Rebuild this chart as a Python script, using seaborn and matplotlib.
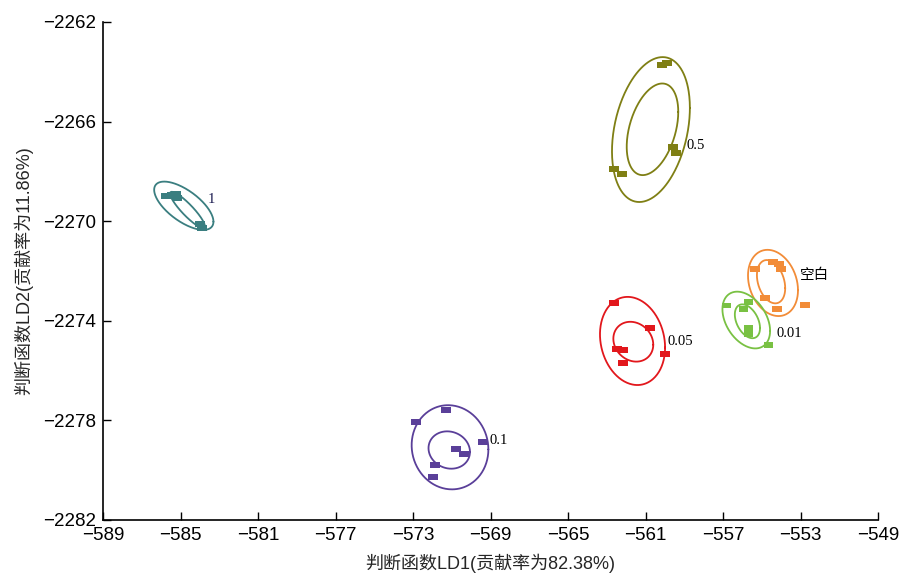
import numpy as np
import pandas as pd
import matplotlib
matplotlib.use("Agg")
import matplotlib.pyplot as plt
import seaborn as sns

# ---- data ----
groups = ["1", "0.5", "空白", "0.01", "0.05", "0.1"]
colors = ["#3a7e80", "#7f7f14", "#f28c38", "#79c143", "#e2171c", "#5a3f99"]

pts_1_x = [-585.75, -585.44, -585.23, -585.18, -583.99, -583.89]
pts_1_y = [-2268.99, -2268.95, -2268.91, -2269.07, -2270.11, -2270.27]
pts_05_x = [-559.89, -560.15, -559.58, -559.43, -562.63, -562.21]
pts_05_y = [-2263.65, -2263.73, -2267.02, -2267.26, -2267.90, -2268.10]
pts_ck_x = [-555.35, -554.42, -554.11, -554.01, -554.83, -554.21, -552.77]
pts_ck_y = [-2271.92, -2271.64, -2271.72, -2271.92, -2273.08, -2273.53, -2273.37]
pts_001_x = [-556.81, -555.69, -555.95, -555.69, -555.69, -554.66]
pts_001_y = [-2273.39, -2273.23, -2273.53, -2274.30, -2274.54, -2274.97]
pts_005_x = [-562.63, -560.77, -562.47, -562.16, -562.16, -559.99]
pts_005_y = [-2273.29, -2274.29, -2275.13, -2275.17, -2275.69, -2275.33]
pts_01_x = [-572.85, -571.30, -569.39, -570.78, -570.37, -571.86, -571.97]
pts_01_y = [-2278.06, -2277.58, -2278.87, -2279.15, -2279.35, -2279.79, -2280.27]

# ellipses: centre, half-extent in x and y, correlation (tilt)
outer_cx = [-584.83, -560.72, -554.42, -555.80, -561.67, -571.09]
outer_cy = [-2269.38, -2266.32, -2272.48, -2273.97, -2274.81, -2279.08]
outer_rx = [1.53, 2.01, 1.29, 1.23, 1.68, 1.98]
outer_ry = [0.97, 2.91, 1.33, 1.14, 1.77, 1.69]
outer_rho = [-0.66, 0.30, -0.22, -0.38, -0.15, -0.05]
inner_cx = [-584.64, -560.64, -554.52, -555.74, -561.63, -571.13]
inner_cy = [-2269.55, -2266.31, -2272.43, -2274.02, -2274.84, -2279.19]
inner_rx = [0.90, 1.33, 0.73, 0.65, 1.03, 1.07]
inner_ry = [0.73, 1.84, 0.87, 0.68, 0.80, 0.75]
inner_rho = [-0.90, 0.38, -0.30, -0.40, -0.15, -0.10]

label_x = [-583.58, -558.91, -553.03, -554.26, -559.84, -569.03]
label_y = [-2269.11, -2266.98, -2272.16, -2274.53, -2274.85, -2278.79]

x_ticks = list(range(-589, -548, 4))
y_ticks = list(range(-2282, -2261, 4))

# ---- build table ----
all_x = [pts_1_x, pts_05_x, pts_ck_x, pts_001_x, pts_005_x, pts_01_x]
all_y = [pts_1_y, pts_05_y, pts_ck_y, pts_001_y, pts_005_y, pts_01_y]
rows = []
for g, xs, ys in zip(groups, all_x, all_y):
    for a, b in zip(xs, ys):
        rows.append({"LD1": a, "LD2": b, "group": g})
df = pd.DataFrame(rows)

sns.set_theme(style="white")
plt.rcParams["font.family"] = ["Liberation Sans", "Noto Sans CJK SC", "DejaVu Sans"]

fig = plt.figure(figsize=(9.02, 5.74), dpi=100)
ax = fig.add_axes([0.1142, 0.0941, 0.8592, 0.8676])

rect = [(-1, -0.62), (1, -0.62), (1, 0.62), (-1, 0.62), (-1, -0.62)]
sns.scatterplot(data=df, x="LD1", y="LD2", hue="group", hue_order=groups,
                palette=colors, marker=rect, s=45, linewidth=0,
                legend=False, ax=ax, zorder=3)

t = np.linspace(0, 2 * np.pi, 300)
def ell(cx, cy, rx, ry, rho):
    x = cx + rx * np.cos(t)
    y = cy + ry * (rho * np.cos(t) + np.sqrt(1 - rho ** 2) * np.sin(t))
    return x, y

for i, c in enumerate(colors):
    ex, ey = ell(outer_cx[i], outer_cy[i], outer_rx[i], outer_ry[i], outer_rho[i])
    ax.plot(ex, ey, color=c, lw=1.3, zorder=2)
    ex, ey = ell(inner_cx[i], inner_cy[i], inner_rx[i], inner_ry[i], inner_rho[i])
    ax.plot(ex, ey, color=c, lw=1.3, zorder=2)
    if groups[i] == "空白":
        ax.text(label_x[i], label_y[i], groups[i], ha="left", va="center",
                fontsize=10.5, color="black", family=["Noto Sans CJK SC"])
    else:
        ax.text(label_x[i], label_y[i], groups[i], ha="left", va="center",
                fontsize=10.5, color="#1a1a50" if i == 0 else "black",
                family=["Liberation Serif", "DejaVu Serif"])

ax.set_xlim(-589, -549)
ax.set_ylim(-2282, -2262)
ax.set_xticks(x_ticks)
ax.set_yticks(y_ticks)
ax.tick_params(direction="in", length=6, width=1, labelsize=13.5, colors="black",
               bottom=True, left=True, pad=5)
for s in ["top", "right"]:
    ax.spines[s].set_visible(False)
for s in ["left", "bottom"]:
    ax.spines[s].set_color("black")
    ax.spines[s].set_linewidth(1.2)
ax.set_xlabel("判断函数LD1(贡献率为82.38%)", fontsize=13, labelpad=7)
ax.set_ylabel("判断函数LD2(贡献率为11.86%)", fontsize=13, labelpad=7)

fig.savefig("out.png", dpi=100)
